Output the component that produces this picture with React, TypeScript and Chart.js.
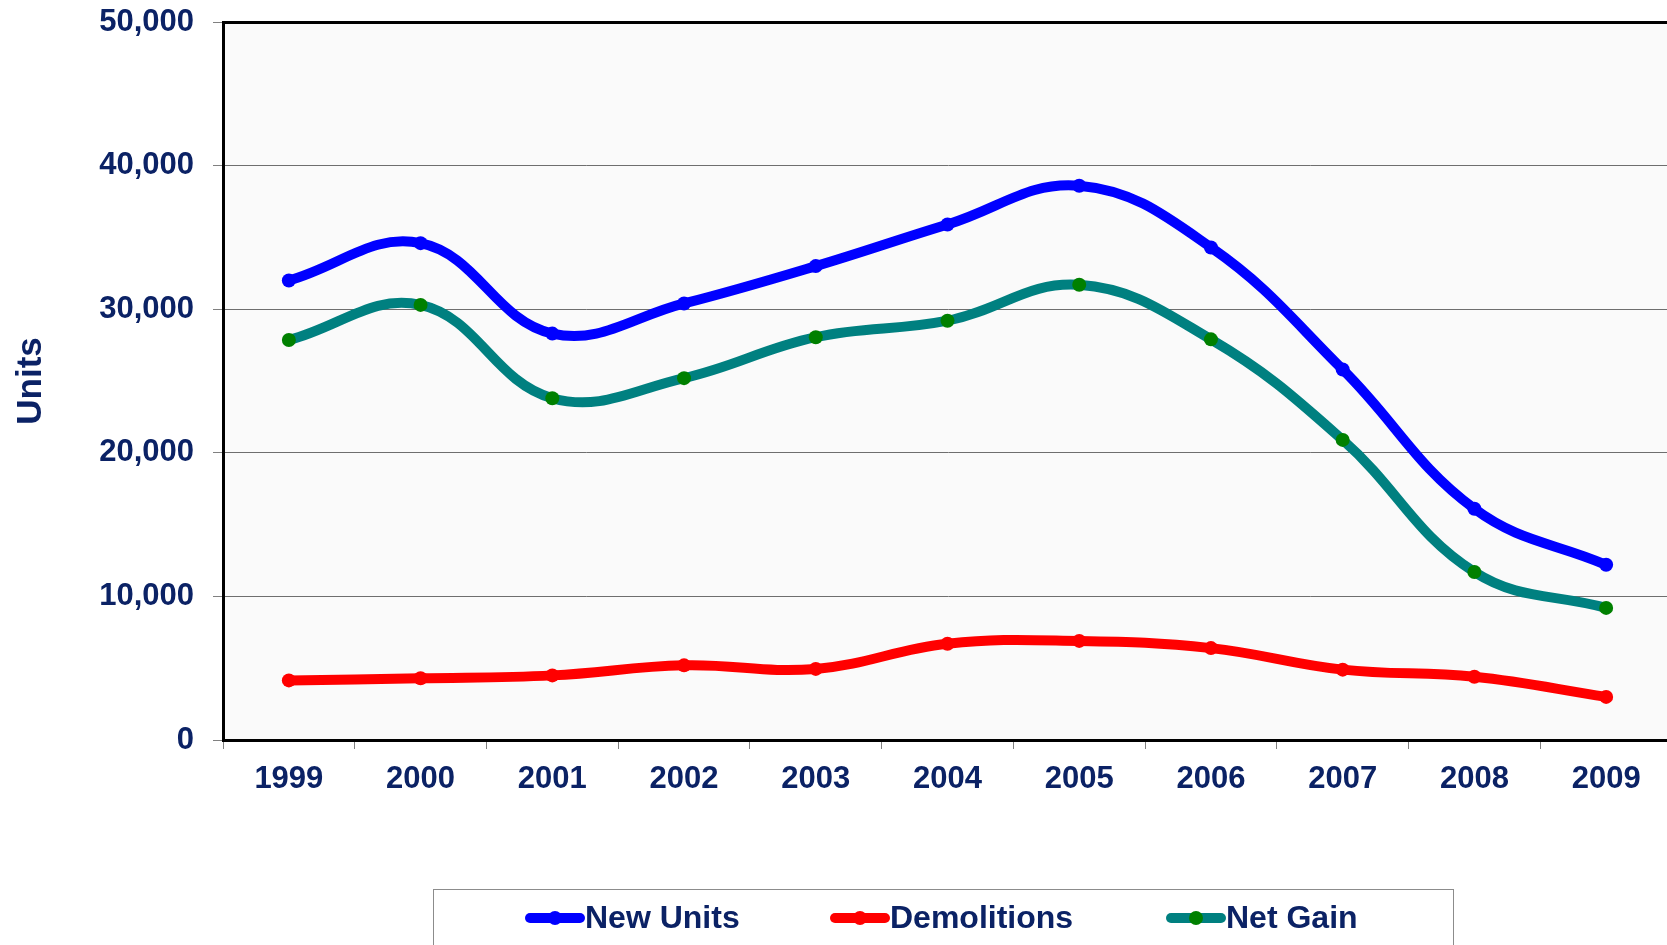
import React, { useEffect, useRef } from "react";
import { Chart, registerables } from "chart.js";

Chart.register(...registerables);

const years = ["1999", "2000", "2001", "2002", "2003", "2004", "2005", "2006", "2007", "2008", "2009"];
const newUnits = [32000, 34600, 28300, 30400, 33000, 35900, 38600, 34300, 25800, 16100, 12200];
const demolitions = [4150, 4300, 4500, 5200, 4950, 6700, 6900, 6400, 4900, 4400, 3000];
const netGain = [27850, 30300, 23800, 25200, 28050, 29200, 31700, 27900, 20900, 11700, 9200];

const NAVY = "#0B2265";
const FONT = "'Liberation Sans', Arial, sans-serif";

const seriesMeta = [
  { label: "New Units", line: "#0000FF", point: "#0000FF" },
  { label: "Demolitions", line: "#FF0000", point: "#FF0000" },
  { label: "Net Gain", line: "#008080", point: "#008000" },
];

const CW = 1700;
const CH = 945;

const bgPlugin = {
  id: "plotBg",
  beforeDraw(chart: any) {
    const { ctx, chartArea } = chart;
    ctx.save();
    ctx.fillStyle = "#FAFAFA";
    ctx.fillRect(chartArea.left, chartArea.top, chartArea.right - chartArea.left, chartArea.bottom - chartArea.top);
    ctx.restore();
  },
};

const legendPlugin = {
  id: "boxLegend",
  afterDraw(chart: any) {
    const { ctx } = chart;
    ctx.save();
    ctx.strokeStyle = "#8C8C8C";
    ctx.lineWidth = 1;
    ctx.strokeRect(433.5, 889.5, 1020, 120);
    const cy = 918;
    const starts = [525, 830, 1166];
    ctx.font = `bold 32px ${FONT}`;
    ctx.textBaseline = "middle";
    ctx.textAlign = "left";
    seriesMeta.forEach((s, i) => {
      const x0 = starts[i];
      const x1 = x0 + 60;
      ctx.strokeStyle = s.line;
      ctx.lineWidth = 10;
      ctx.lineCap = "round";
      ctx.beginPath();
      ctx.moveTo(x0 + 5, cy);
      ctx.lineTo(x1 - 5, cy);
      ctx.stroke();
      ctx.fillStyle = s.point;
      ctx.beginPath();
      ctx.arc((x0 + x1) / 2, cy, 7, 0, Math.PI * 2);
      ctx.fill();
      ctx.fillStyle = NAVY;
      ctx.fillText(s.label, x1, cy + 1);
    });
    ctx.restore();
  },
};

export default function App() {
  const ref = useRef<HTMLCanvasElement | null>(null);

  useEffect(() => {
    if (!ref.current) return;
    const values = [newUnits, demolitions, netGain];
    const chart = new Chart(ref.current, {
      type: "line",
      data: {
        labels: years,
        datasets: seriesMeta.map((s, i) => ({
          label: s.label,
          data: values[i],
          borderColor: s.line,
          backgroundColor: s.point,
          borderWidth: 10,
          pointRadius: 7,
          pointBorderWidth: 0,
          pointBackgroundColor: s.point,
          tension: 0.4,
          fill: false,
          borderCapStyle: "round",
          borderJoinStyle: "round",
        })),
      },
      options: {
        responsive: false,
        animation: false,
        layout: { padding: { top: 22, right: CW - 1672, left: 0, bottom: 0 } },
        plugins: {
          legend: { display: false },
          tooltip: { enabled: false },
        },
        scales: {
          x: {
            offset: true,
            grid: {
              offset: true,
              drawOnChartArea: false,
              drawTicks: true,
              tickLength: 9,
              tickColor: "#808080",
              tickWidth: 1,
            },
            border: { color: "#000000", width: 3 },
            ticks: {
              color: NAVY,
              font: { family: FONT, size: 31, weight: "bold" },
              padding: 12,
              maxRotation: 0,
            },
            afterFit(scale: any) {
              scale.height = CH - 740;
              scale.paddingLeft = 0;
              scale.paddingRight = 0;
            },
          },
          y: {
            min: 0,
            max: 50000,
            ticks: {
              stepSize: 10000,
              color: NAVY,
              font: { family: FONT, size: 31, weight: "bold" },
              padding: 19,
              callback: (v: any) => Number(v).toLocaleString("en-US"),
            },
            grid: {
              color: (c: any) => (c.tick && c.tick.value === 50000 ? "#000000" : "#6E6E6E"),
              lineWidth: (c: any) => (c.tick && c.tick.value === 50000 ? 3 : 1),
              tickColor: "#808080",
              tickWidth: 1,
              tickLength: 10,
            },
            border: { color: "#000000", width: 3 },
            title: {
              display: true,
              text: "Units",
              color: NAVY,
              font: { family: FONT, size: 35, weight: "bold" },
              padding: { top: 10, bottom: 0 },
            },
            afterFit(scale: any) {
              scale.width = 223;
              scale.paddingTop = 0;
              scale.paddingBottom = 0;
            },
          },
        },
      },
      plugins: [bgPlugin, legendPlugin],
    });
    return () => chart.destroy();
  }, []);

  return (
    <div style={{ position: "fixed", left: 0, top: 0, width: 1667, height: 945, overflow: "hidden", background: "#fff" }}>
      <canvas ref={ref} width={CW} height={CH} style={{ width: CW, height: CH, display: "block" }} />
    </div>
  );
}
